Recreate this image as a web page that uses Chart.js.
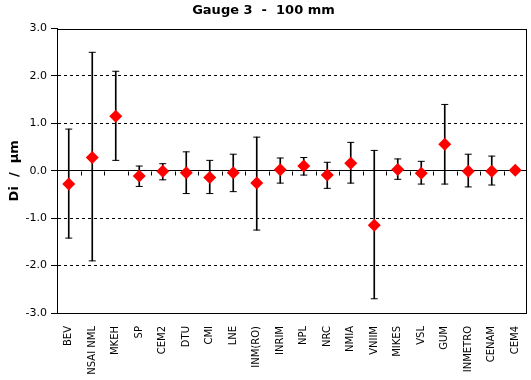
<!DOCTYPE html>
<html>
<head>
<meta charset="utf-8">
<script src="https://cdn.jsdelivr.net/npm/chart.js@4"></script>
<style>
  body { margin: 0; background: #fff; }
  #wrap { width: 531px; height: 380px; }
</style>
</head>
<body>
<div id="wrap"><canvas id="canvas"></canvas></div>
<script>
const categories = ['BEV', 'NSAI NML', 'MKEH', 'SP', 'CEM2', 'DTU', 'CMI', 'LNE', 'INM(RO)', 'INRIM',
  'NPL', 'NRC', 'NMIA', 'VNIIM', 'MIKES', 'VSL', 'GUM', 'INMETRO', 'CENAM', 'CEM4']
const values = [-0.28, 0.28, 1.15, -0.11, -0.01, -0.04, -0.14, -0.04, -0.26, 0.02,
  0.10, -0.09, 0.16, -1.15, 0.03, -0.05, 0.56, -0.01, -0.01, 0.01]
const upper = [0.88, 2.50, 2.10, 0.10, 0.15, 0.40, 0.22, 0.35, 0.71, 0.27,
  0.28, 0.18, 0.60, 0.43, 0.25, 0.20, 1.40, 0.35, 0.31, null]
const lower = [-1.42, -1.90, 0.22, -0.33, -0.19, -0.48, -0.48, -0.44, -1.25, -0.26,
  -0.09, -0.37, -0.26, -2.70, -0.18, -0.28, -0.28, -0.34, -0.30, null]
const yTicks = [-3, -2, -1, 0, 1, 2, 3]

const whiskers = categories.map((c, i) => upper[i] == null ? null : [lower[i], upper[i]])

// frame round the plot and little ticks on the zero line
const framePlugin = {
  id: 'frame',
  beforeDatasetsDraw(chart) {
    const { ctx, chartArea: a, scales } = chart
    const x = scales.x, y = scales.y
    const y0 = Math.round(y.getPixelForValue(0)) + 0.5
    ctx.save()
    ctx.strokeStyle = '#000'
    ctx.lineWidth = 1
    ctx.beginPath()
    for (let i = 0; i < categories.length - 1; i++) {
      const bx = Math.round((x.getPixelForValue(i) + x.getPixelForValue(i + 1)) / 2) + 0.5
      ctx.moveTo(bx, y0)
      ctx.lineTo(bx, y0 + 4)
    }
    ctx.stroke()
    ctx.strokeRect(Math.round(a.left) + 0.5, Math.round(a.top) + 0.5,
      Math.round(a.right - a.left) - 1, Math.round(a.bottom - a.top))
    ctx.restore()
  }
}

const ctx = document.querySelector('#canvas').getContext('2d')

const config = {
  type: 'bar',
  data: {
    labels: categories,
    datasets: [
      {
        type: 'line',
        data: values,
        showLine: false,
        pointStyle: 'rectRot',
        pointRadius: 6.5,
        pointBorderWidth: 0,
        pointBackgroundColor: '#ff0000',
        pointBorderColor: '#ff0000'
      },
      {
        type: 'line',
        data: upper,
        showLine: false,
        pointStyle: 'line',
        pointRadius: 3.5,
        pointBorderWidth: 1,
        pointBorderColor: '#000'
      },
      {
        type: 'line',
        data: lower,
        showLine: false,
        pointStyle: 'line',
        pointRadius: 3.5,
        pointBorderWidth: 1,
        pointBorderColor: '#000'
      },
      {
        data: whiskers,
        barThickness: 1,
        backgroundColor: '#000',
        borderWidth: 0
      }
    ]
  },
  plugins: [framePlugin],
  options: {
    responsive: true,
    maintainAspectRatio: false,
    animation: false,
    layout: { autoPadding: false, padding: { right: 4, left: 0, bottom: 0 } },
    plugins: {
      legend: { display: false },
      tooltip: { enabled: false },
      title: {
        display: true,
        text: 'Gauge 3  -  100 mm',
        color: '#000',
        font: { family: 'DejaVu Sans', size: 13, weight: 'bold' },
        padding: { top: 3, bottom: 10 }
      }
    },
    scales: {
      x: {
        grid: { display: false },
        border: { display: false },
        ticks: {
          color: '#000',
          font: { family: 'DejaVu Sans', size: 10 },
          minRotation: 90,
          maxRotation: 90,
          autoSkip: false,
          padding: 5
        },
        afterFit: s => { s.height = 67; s.paddingLeft = 0; s.paddingRight = 0 }
      },
      y: {
        min: -3,
        max: 3,
        afterBuildTicks: s => { s.ticks = yTicks.map(v => ({ value: v })) },
        ticks: {
          color: '#000',
          font: { family: 'DejaVu Sans', size: 11 },
          padding: 4,
          callback: v => v.toFixed(1)
        },
        grid: {
          color: c => (c.tick && Math.abs(c.tick.value) === 3) ? 'rgba(0,0,0,0)' : '#000',
          tickColor: '#000',
          tickLength: 6,
          lineWidth: 1
        },
        border: {
          color: '#000',
          dash: c => (c.tick && c.tick.value !== 0) ? [3, 3] : []
        },
        title: {
          display: true,
          text: 'Di  /  µm',
          color: '#000',
          font: { family: 'DejaVu Sans', size: 13, weight: 'bold' },
          padding: { top: 7, bottom: 0 }
        },
        afterFit: s => { s.width = 57 }
      }
    }
  }
}

const myChart = new Chart(ctx, config)
</script>
</body>
</html>
